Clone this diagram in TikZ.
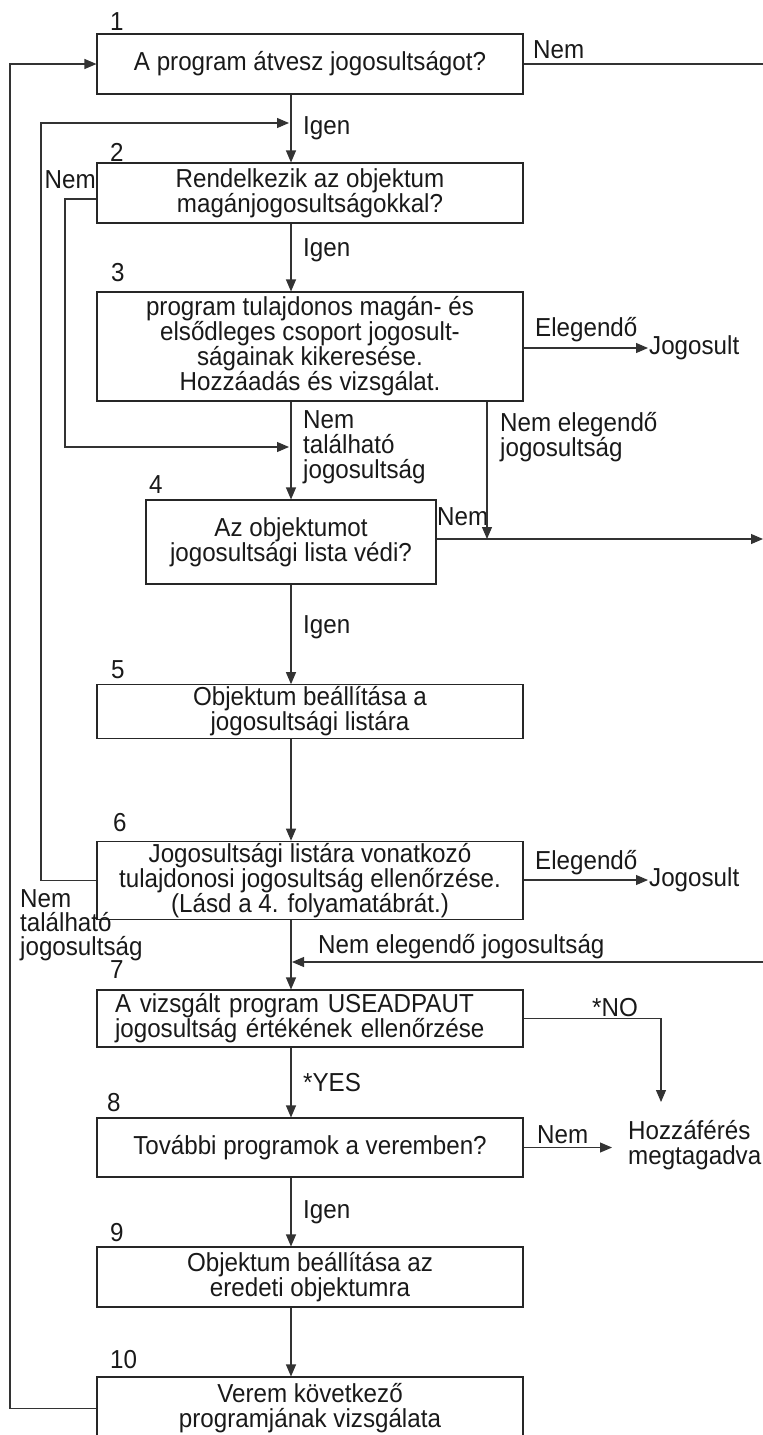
\documentclass[tikz,border=0pt]{standalone}
\usepackage{fontspec}
\setmainfont[FakeStretch=0.93]{Liberation Sans}
\usetikzlibrary{arrows.meta}
\newcommand\boxfont{\fontsize{26pt}{25pt}\selectfont}
\newcommand\tightfont{\fontsize{26pt}{24pt}\selectfont}
\begin{document}
\begin{tikzpicture}[x=1pt,y=-1pt,
  wire/.style={draw=black!80, line width=1.1pt},
  flowbox/.style={draw=black!85, line width=1.1pt, minimum width=426pt, align=center,
    inner sep=2pt, font=\boxfont, text=black!90},
  num/.style={font=\boxfont, anchor=west, inner sep=0pt, text=black!90},
  lbl/.style={font=\boxfont, anchor=west, inner sep=0pt, align=left, text=black!90},
  arr/.style={wire, -{Triangle[length=12pt,width=10pt]}},
]
\useasboundingbox (0,0) rectangle (763,1435);

% process boxes
\node[flowbox, minimum height=60pt] (b1) at (310,64) {A program átvesz jogosultságot?};
\node[flowbox, minimum height=60pt] (b2) at (310,193) {Rendelkezik az objektum\\magánjogosultságokkal?};
\node[flowbox, minimum height=109pt] (b3) at (310,346.5) {program tulajdonos magán- és\\elsődleges csoport jogosult-\\ságainak kikeresése.\\Hozzáadás és vizsgálat.};
\node[flowbox, minimum width=290pt, minimum height=84pt] (b4) at (291,542) {Az objektumot\\jogosultsági lista védi?};
\node[flowbox, minimum height=53pt] (b5) at (310,711.5) {Objektum beállítása a\\jogosultsági listára};
\node[flowbox, minimum height=77pt] (b6) at (310,880.5) {Jogosultsági listára vonatkozó\\tulajdonosi jogosultság ellenőrzése.\\(Lásd a 4. folyamatábrát.)};
\node[flowbox, minimum height=57pt, text width=390pt, align=left, inner xsep=18pt] (b7) at (310,1018.5) {A vizsgált program USEADPAUT\\jogosultság értékének ellenőrzése};
\node[flowbox, minimum height=59pt] (b8) at (310,1147.5) {További programok a veremben?};
\node[flowbox, minimum height=60pt] (b9) at (310,1277) {Objektum beállítása az\\eredeti objektumra};
\node[flowbox, minimum height=63pt] (b10) at (310,1408.5) {Verem következő\\programjának vizsgálata};

% step numbers
\node[num] (n1) at (110,22) {1};
\node[num] (n2) at (110,152) {2};
\node[num] (n3) at (111,273) {3};
\node[num] (n4) at (149,485) {4};
\node[num] (n5) at (111,670) {5};
\node[num] (n6) at (113,823) {6};
\node[num] (n7) at (110,970) {7};
\node[num] (n8) at (107,1103) {8};
\node[num] (n9) at (110,1233) {9};
\node[num] (n10) at (110,1360) {10};

% outcomes
\node[lbl] (ok1) at (649,348) {Jogosult};
\node[lbl] (ok2) at (649,880) {Jogosult};
\node[lbl] (deny) at (628,1145.5) {Hozzáférés\\megtagadva};

% branch labels
\node[lbl] (l1) at (533,50) {Nem};
\node[lbl] (l2) at (303,128) {Igen};
\node[lbl, anchor=east] (l3) at (96,180) {Nem};
\node[lbl] (l4) at (303,250) {Igen};
\node[lbl] (l5) at (535,330) {Elegendő};
\node[lbl] (l6) at (303,447) {Nem\\található\\jogosultság};
\node[lbl] (l7) at (500,437.5) {Nem elegendő\\jogosultság};
\node[lbl] (l8) at (437,517) {Nem};
\node[lbl] (l9) at (303,627) {Igen};
\node[lbl] (l10) at (535,863) {Elegendő};
\node[lbl, font=\tightfont] (l11) at (20,925) {Nem\\található\\jogosultság};
\node[lbl] (l12) at (318,947) {Nem elegendő jogosultság};
\node[lbl, anchor=center] (l13) at (615,1008) {*NO};
\node[lbl] (l14) at (303,1083) {*YES};
\node[lbl] (l15) at (537,1135) {Nem};
\node[lbl] (l16) at (303,1212) {Igen};

% routing points
\coordinate (spine) at (291,0);
\coordinate (outer) at (10,0);
\coordinate (loopx) at (41,0);
\coordinate (nemx) at (65,0);
\coordinate (nex) at (487,0);
\coordinate (edge) at (763,0);
\coordinate (nox) at (661,0);
\coordinate (noend) at (661,1102);
\coordinate (r2) at (291,123);
\coordinate (r4) at (291,447);
\coordinate (r7) at (291,962);

% main flow
\draw[arr] (b1.south -| spine) -- (b2.north -| spine);
\draw[arr] (b2.south -| spine) -- (b3.north -| spine);
\draw[arr] (b3.south -| spine) -- (b4.north);
\draw[arr] (b4.south) -- (b5.north -| spine);
\draw[arr] (b5.south -| spine) -- (b6.north -| spine);
\draw[arr] (b6.south -| spine) -- (b7.north -| spine);
\draw[arr] (b7.south -| spine) -- (b8.north -| spine);
\draw[arr] (b8.south -| spine) -- (b9.north -| spine);
\draw[arr] (b9.south -| spine) -- (b10.north -| spine);

% side branches
\draw[wire] (b1.east) -- (b1.east -| edge);
\draw[arr, shorten >=2pt] ([yshift=-6pt]b2.west) -- ([yshift=-6pt]b2.west -| nemx) -- (r4 -| nemx) -- (r4);
\draw[arr, shorten >=1pt] (b3.east |- ok1.west) -- (ok1.west);
\draw[arr] (b3.south -| nex) -- ([yshift=3pt]b4.east -| nex);
\draw[arr] ([yshift=3pt]b4.east) -- ([yshift=3pt]b4.east -| edge);
\draw[arr, shorten >=1pt] (b6.east |- ok2.west) -- (ok2.west);
\draw[arr, shorten >=2pt] (b6.west) -- (b6.west -| loopx) -- (r2 -| loopx) -- (r2);
\draw[arr, shorten >=1pt] (r7 -| edge) -- (r7);
\draw[arr] (b7.east) -- (b7.east -| nox) -- (noend);
\draw[arr, shorten >=16pt] (b8.east) -- (b8.east -| deny.west);
\draw[arr] (b10.west) -- (b10.west -| outer) -- (b1.west -| outer) -- (b1.west);
\end{tikzpicture}
\end{document}
